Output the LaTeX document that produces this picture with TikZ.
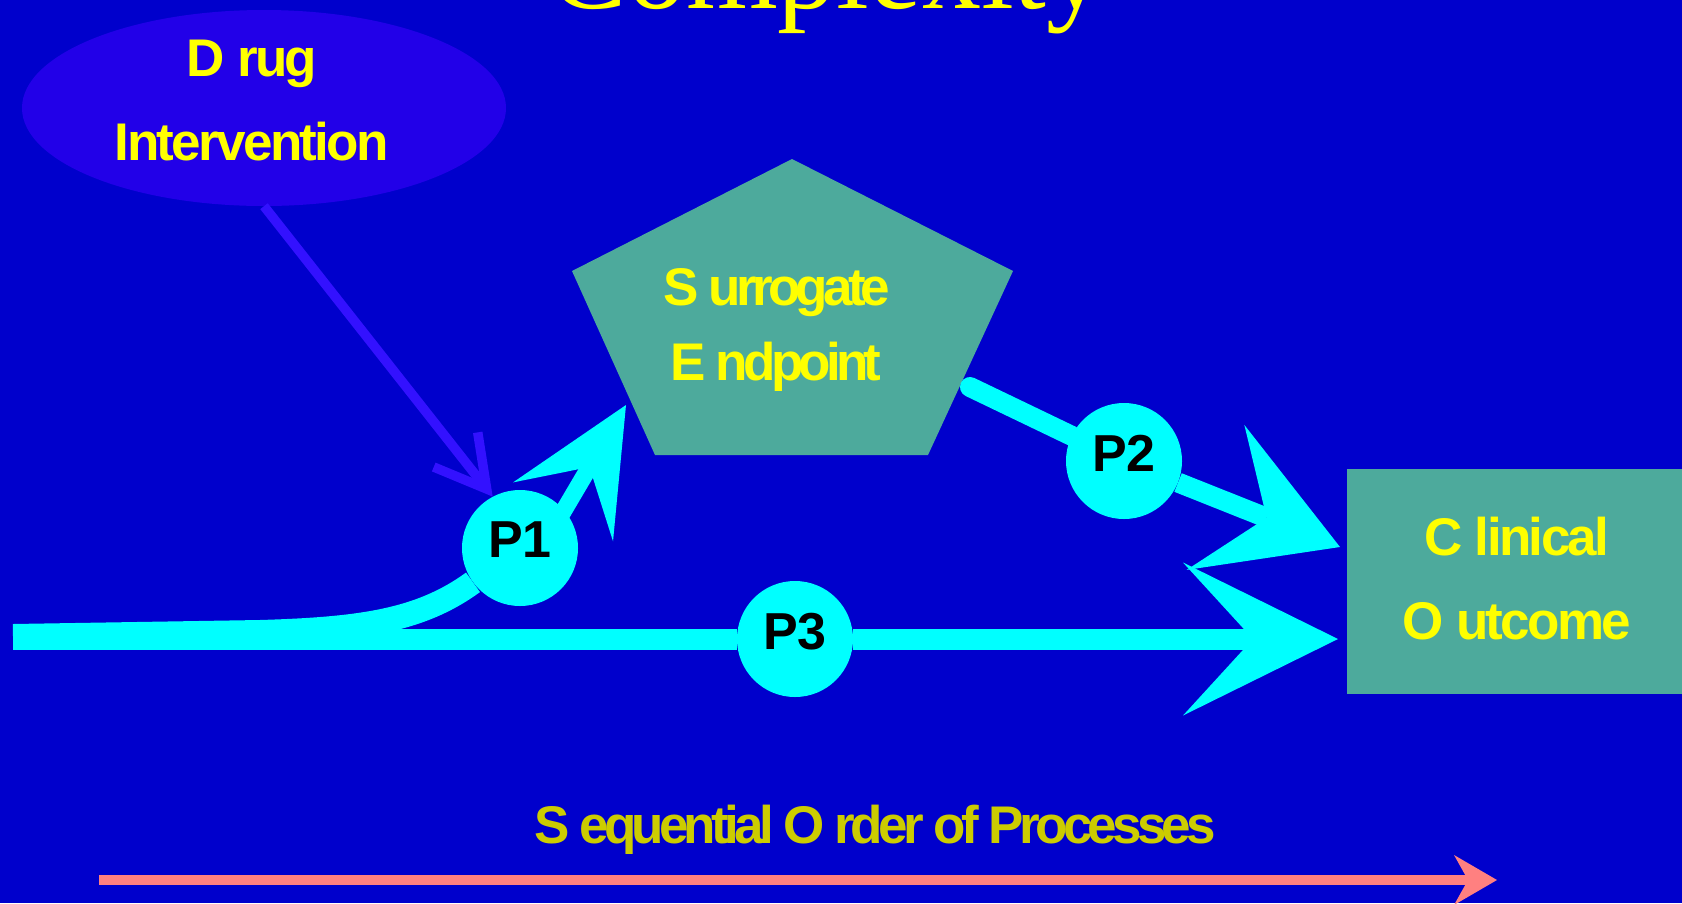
\documentclass[tikz,border=0pt]{standalone}
\usepackage{fontspec}
\usetikzlibrary{arrows.meta,shapes.geometric}
\newfontfamily\lblfont{Liberation Sans}[LetterSpace=-5]
\newfontfamily\lbltight{Liberation Sans}[LetterSpace=-9]
\newfontfamily\pfont{Liberation Sans}
\newfontfamily\titlefont{Liberation Serif}
\definecolor{bgblue}{HTML}{0000CC}
\definecolor{cyanx}{HTML}{00FFFF}
\definecolor{tealx}{HTML}{4DAA9C}
\definecolor{ellfill}{HTML}{2200E8}
\definecolor{purpline}{HTML}{3311FF}
\definecolor{yellowx}{HTML}{FFFF00}
\definecolor{olivey}{HTML}{CCCC00}
\definecolor{pinkx}{HTML}{FF8080}
\tikzset{
  lbl/.style={text=yellowx, font=\lblfont\bfseries\fontsize{53}{60}\selectfont, anchor=base, inner sep=0pt},
  lbltight/.style={lbl, font=\lbltight\bfseries\fontsize{53}{60}\selectfont},
  pcirc/.style={circle, fill=cyanx, minimum size=116pt, inner sep=0pt, text=black, text depth=16pt,
                font=\pfont\bfseries\fontsize{52}{60}\selectfont},
  cyanline/.style={draw=cyanx, fill=cyanx},
}
\begin{document}
\begin{tikzpicture}[x=1pt,y=-1pt]
\useasboundingbox (0,0) rectangle (1682,903);
\clip (0,0) rectangle (1682,903);
\fill[bgblue] (0,0) rectangle (1682,903);

% title (mostly above the page)
\node[anchor=base, inner sep=0pt, text=yellowx, font=\titlefont\fontsize{118}{120}\selectfont] (title) at (827,8) {Complexity};

% drug intervention
\node[ellipse, fill=ellfill, minimum width=484pt, minimum height=196pt, inner sep=0pt] (drug) at (264,108) {};
\node[lbl] (drug1) at (252,76) {D rug};
\node[lbl] (drug2) at (252,160) {Intervention};

% surrogate endpoint pentagon
\fill[tealx] (792,159) -- (1013,271) -- (928,455) -- (655,455) -- (572,271) -- cycle;
\node[lbltight] (sur1) at (777,305) {S urrogate};
\node[lbltight] (sur2) at (776,380) {E ndpoint};

% clinical outcome
\node[rectangle, fill=tealx, minimum width=340pt, minimum height=225pt, inner sep=0pt, anchor=west] (outcome) at (1347,581.5) {};
\node[lbl] (out1) at (1517,555) {C linical};
\node[lbl] (out2) at (1517,639) {O utcome};

% process circles
\node[pcirc] (p1) at (520,548) {P1};
\node[pcirc] (p2) at (1124,461) {P2};
\node[pcirc] (p3) at (795,639) {P3};

% free ends
\coordinate (p1start) at (13,636);
\coordinate (p1bend) at (260,632);
\coordinate (p1neck) at (560,517);
\coordinate (p1tip) at (626,405);
\coordinate (p2start) at (970,387);
\coordinate (p2tip) at (1340,547);
\coordinate (p3start) at (13,639);
\coordinate (p3tip) at (1338,639);
\coordinate (seqstart) at (99,880);
\coordinate (seqtip) at (1497,880);

% P3 path
\draw[cyanline, line width=21pt] (p3start) -- (p3);
\draw[cyanline, line width=21pt, -{Stealth[length=155pt,width=153pt,inset=70pt,line width=0pt]}] (p3) -- (p3tip);

% P1 path
\draw[draw=cyanx, line width=24pt] (p1start) -- (p1bend) .. controls (360,629) and (420,621) .. (p1);
\draw[cyanline, line width=17pt, -{Stealth[length=124pt,width=116pt,inset=52pt,line width=0pt]}] (p1neck) -- (p1tip);

% P2 path
\draw[draw=cyanx, line width=20pt, line cap=round] (p2start) -- (p2);
\draw[cyanline, line width=20pt, -{Stealth[length=134pt,width=156pt,inset=55pt,line width=0pt]}] (p2) -- (p2tip);

% drug to P1
\draw[draw=purpline, line width=9.5pt, -{Straight Barb[length=50pt,width=56pt]}] (drug.south) -- (p1.118);

% sequential order
\node[lbltight, text=olivey] (seq) at (875,843) {S equential O rder of Processes};
\draw[draw=pinkx, fill=pinkx, line width=10pt, -{Stealth[length=43pt,width=50pt,inset=14pt,line width=0pt]}] (seqstart) -- (seqtip);
\end{tikzpicture}
\end{document}
